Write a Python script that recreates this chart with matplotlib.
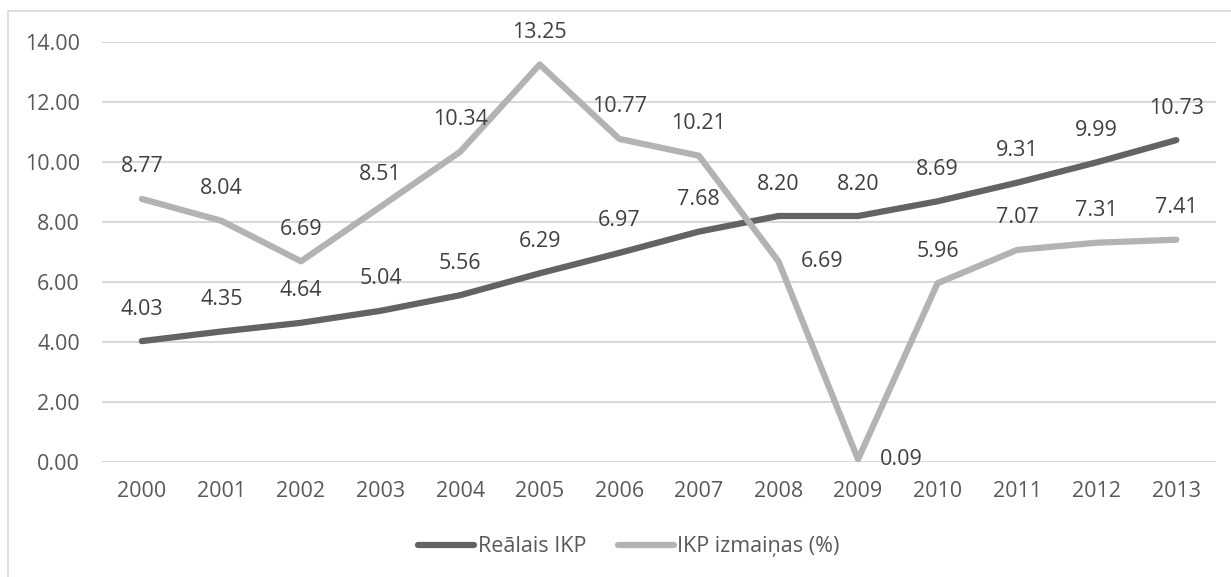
import matplotlib.pyplot as plt
from matplotlib.patches import Rectangle

# data
years = ['2000', '2001', '2002', '2003', '2004', '2005', '2006',
         '2007', '2008', '2009', '2010', '2011', '2012', '2013']
real_ikp = [4.03, 4.35, 4.64, 5.04, 5.56, 6.29, 6.97,
            7.68, 8.20, 8.20, 8.69, 9.31, 9.99, 10.73]
ikp_change = [8.77, 8.04, 6.69, 8.51, 10.34, 13.25, 10.77,
              10.21, 6.69, 0.09, 5.96, 7.07, 7.31, 7.41]
series_names = ['Reālais IKP', 'IKP izmaiņas (%)']

plt.rcParams['font.family'] = ['Open Sans', 'DejaVu Sans']
fs = 15.5

fig = plt.figure(figsize=(12.31, 5.77), dpi=100)
ax = fig.add_axes([0.0829, 0.1993, 0.905, 0.7279])

# chart border (open at right and bottom like the crop)
fig.patches.append(Rectangle((0.0065, -0.1), 1.5, 1.081, transform=fig.transFigure,
                             fill=False, ec='#d9d9d9', lw=1.2))

x = list(range(len(years)))
colors = ['#636363', '#b3b3b3']
label_color = '#404040'

for vals, name, col, sidx in zip([real_ikp, ikp_change], series_names, colors, [0, 1]):
    ax.plot(x, vals, color=col, lw=4.5, solid_capstyle='round',
            solid_joinstyle='round', label=name, zorder=3)
    for i, v in enumerate(vals):
        # two labels sit on the right side of the point in the original
        if sidx == 1 and i in (8, 9):
            ax.annotate(f'{v:.2f}', (i, v), xytext=(16, 0), textcoords='offset points',
                        ha='left', va='center', fontsize=fs, color=label_color, zorder=4)
        else:
            ax.annotate(f'{v:.2f}', (i, v), xytext=(0, 23), textcoords='offset points',
                        ha='center', va='center', fontsize=fs, color=label_color, zorder=4)

ax.set_xlim(-0.5, len(years) - 0.5)
ax.set_ylim(0, 14)
ax.set_yticks(range(0, 15, 2))
ax.set_yticklabels([f'{t:.2f}' for t in range(0, 15, 2)])
ax.set_xticks(x)
ax.set_xticklabels(years)
ax.tick_params(axis='both', length=0, labelsize=fs, labelcolor='#595959')
ax.tick_params(axis='y', pad=16)
ax.tick_params(axis='x', pad=14)
ax.grid(axis='y', color='#d9d9d9', lw=1.5)
ax.set_axisbelow(True)
for s in ax.spines.values():
    s.set_visible(False)

fig.legend(loc='center', bbox_to_anchor=(0.511, 0.052), ncol=2, frameon=False,
           fontsize=fs, handlelength=2.6, handletextpad=0.15, columnspacing=1.5,
           labelcolor='#595959')

fig.savefig('out.png', dpi=100)
